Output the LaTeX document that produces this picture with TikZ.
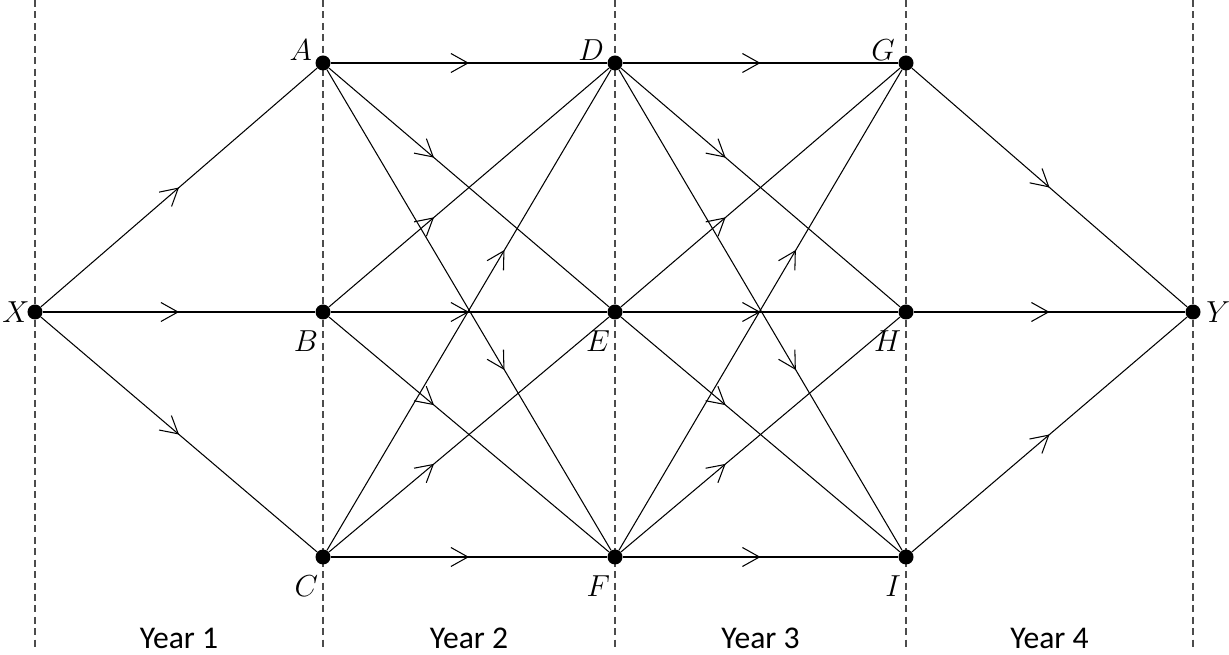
\documentclass[tikz,border=0pt]{standalone}
\usepackage{fontspec}
\setsansfont{Carlito}
\usetikzlibrary{arrows.meta, decorations.markings}
\tikzset{
  dot/.style      = {circle, fill=black, inner sep=0pt, minimum size=0.3cm},
  lbl/.style      = {inner sep=0pt, font=\fontsize{16}{16}\selectfont},
  tl/.style       = {label={[lbl, xshift=-3pt, yshift=-2pt]above left:$#1$}},
  bl/.style       = {label={[lbl, xshift=0.5pt, yshift=-7.5pt]below left:$#1$}},
  yearline/.style = {dash pattern=on 4pt off 2.5pt, line width=0.6pt, color=black!70},
  link/.style     = {line width=0.6pt},
  midarr/.style   = {postaction={decorate, decoration={markings,
                     mark=at position #1 with {\arrow{Straight Barb[length=0.34cm, width=0.38cm, line width=0.6pt]}}}}},
  midarr/.default = 0.5,
  year/.style     = {font=\sffamily\fontsize{18}{20}\selectfont, anchor=base},
}

\begin{document}
\begin{tikzpicture}
  \useasboundingbox (0,0) rectangle (24.58,13.10);

  % year boundaries
  \foreach \x in {0.70,6.46,12.30,18.12,23.86}
    \draw[yearline] (\x,13.10) -- (\x,0.10);

  \node[dot, label={[lbl, xshift=1.5pt]left:$X$}] (X) at (0.70,6.86) {};
  \node[dot, tl=A] (A) at (6.46,11.84) {};
  \node[dot, bl=B] (B) at (6.46,6.86)  {};
  \node[dot, bl=C] (C) at (6.46,1.96)  {};
  \node[dot, tl=D] (D) at (12.30,11.84) {};
  \node[dot, bl=E] (E) at (12.30,6.86)  {};
  \node[dot, bl=F] (F) at (12.30,1.96)  {};
  \node[dot, tl=G] (G) at (18.12,11.84) {};
  \node[dot, bl=H] (H) at (18.12,6.86)  {};
  \node[dot, bl=I] (I) at (18.12,1.96)  {};
  \node[dot, label={[lbl, xshift=3pt]right:$Y$}] (Y) at (23.86,6.86) {};

  \foreach \n in {A,B,C}
    \draw[link, midarr] (X) -- (\n);
  \foreach \a/\b/\p in {A/D/0.5, A/E/0.375, A/F/0.625,
                        B/D/0.375, B/E/0.5, B/F/0.375,
                        C/D/0.625, C/E/0.375, C/F/0.5,
                        D/G/0.5, D/H/0.375, D/I/0.625,
                        E/G/0.375, E/H/0.5, E/I/0.375,
                        F/G/0.625, F/H/0.375, F/I/0.5}
    \draw[link, midarr=\p] (\a) -- (\b);
  \foreach \n in {G,H,I}
    \draw[link, midarr] (\n) -- (Y);

  \foreach \x [count=\i] in {3.58,9.38,15.21,20.99}
    \node[year] (yr\i) at (\x,0.12) {Year \i};
\end{tikzpicture}
\end{document}
